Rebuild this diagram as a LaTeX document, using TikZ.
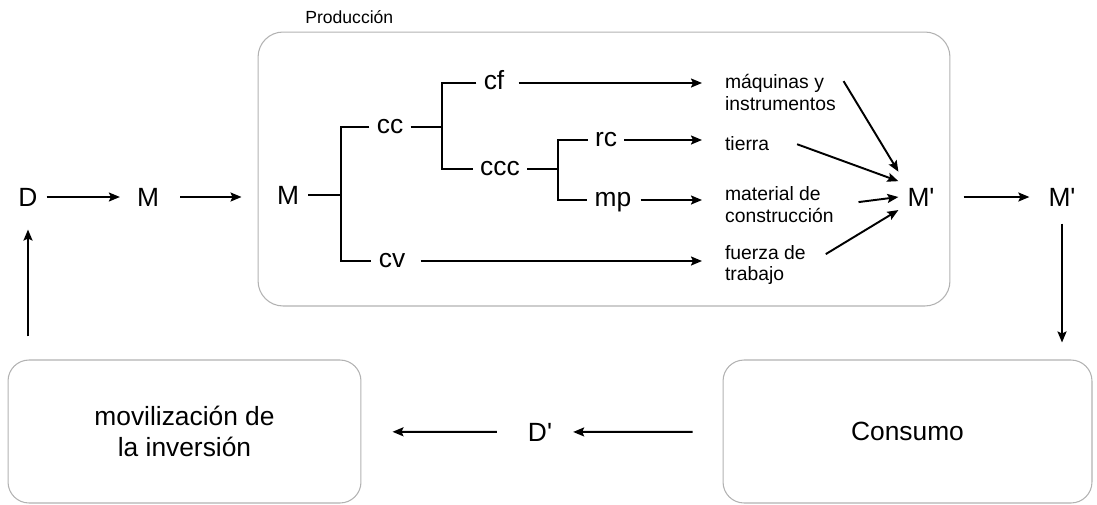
\documentclass[tikz,border=0pt]{standalone}
\usepackage{fontspec}
\setmainfont{Liberation Sans}[Ligatures=TeXOff]
\usetikzlibrary{arrows.meta}

\begin{document}
\begin{tikzpicture}[
    x=0.02cm, y=-0.02cm,
    stage/.style={draw=gray!60, line width=0.6pt, rounded corners=0.42cm, align=center, font=\fontsize{15}{18}\selectfont},
    sym/.style={font=\fontsize{15}{18}\selectfont, text height=10.7pt, text depth=0pt, inner sep=5pt},
    part/.style={font=\fontsize{15}{18}\selectfont, text height=7.8pt, text depth=0pt, inner sep=4pt},
    item/.style={font=\fontsize{11}{12.5}\selectfont, align=left, anchor=west, inner sep=1pt},
    branch/.style={line width=1.3pt},
    arrow/.style={-{Stealth[length=2.2mm, width=1.8mm, inset=0.4mm]}, line width=1.1pt}
]
\useasboundingbox (0,0) rectangle (1097,504);

% Production box
\node[stage, rounded corners=0.5cm, minimum width=13.84cm, minimum height=5.48cm] (prod) at (604,169) {};
\node[font=\fontsize{10}{12}\selectfont, anchor=west, inner sep=0pt] (prodlbl) at (305,17) {Producción};

% Circuit
\node[sym] (D) at (28,197) {D};
\node[sym] (M) at (148,197) {M};
\node[sym] (Mo) at (1062,197) {M'};
\node[sym] (Dp) at (540,432) {D'};
\node[stage, minimum width=7.06cm, minimum height=2.86cm] (movil) at (184.5,431.5) {movilización de\\la inversión};
\node[stage, minimum width=7.38cm, minimum height=2.86cm] (cons) at (907.5,431.5) {Consumo};

% Tree of capital
\node[sym] (Mi) at (288,195) {M};
\node[part] (cc) at (390,127) {cc};
\node[part] (cv) at (392,261) {cv};
\node[part] (cf) at (494,83) {cf};
\node[part] (ccc) at (500,169) {ccc};
\node[part] (rc) at (606,140) {rc};
\node[part] (mp) at (613,200) {mp};
\coordinate (f1) at (341,195);
\coordinate (f2) at (442,127);
\coordinate (f3) at (558,169);

\draw[branch] (Mi) -- (f1);
\draw[branch] (cc.west) -| (f1) |- (cv.west);
\draw[branch] (cc) -- (f2);
\draw[branch] (cf.west) -| (f2) |- (ccc.west);
\draw[branch] (ccc) -- (f3);
\draw[branch] (rc.west) -| (f3) |- (mp.west);

% Inputs
\node[item] (maq) at (723,92) {máquinas y\\instrumentos};
\node[item] (tierra) at (723,144) {tierra};
\node[item] (mat) at (723,205) {material de\\construcción};
\node[item] (fuerza) at (723,265) {fuerza de\\trabajo};
\node[sym, minimum height=1cm] (Mp) at (921,197) {M'};

\draw[arrow, shorten <=0.14cm, shorten >=0.42cm] (cf.east) -- (cf.east -| maq.west);
\draw[arrow, shorten >=0.42cm] (rc.east) -- (rc.east -| tierra.west);
\draw[arrow, shorten <=0.04cm, shorten >=0.42cm] (mp.east) -- (mp.east -| mat.west);
\draw[arrow, shorten <=0.16cm, shorten >=0.42cm] (cv.east) -- (cv.east -| fuerza.west);

\draw[arrow, shorten <=0.22cm] (maq.north east) -- (Mp.north west);
\draw[arrow, shorten <=0.55cm] (tierra.north east) -- (Mp.145);
\draw[arrow, shorten <=0.46cm] (mat.east) -- (Mp.west);
\draw[arrow, shorten <=0.42cm] (fuerza.east) -- (Mp.210);

% Flow between stages
\draw[arrow, shorten >=0.16cm] (D) -- (M);
\draw[arrow, shorten <=0.24cm, shorten >=0.32cm] (M) -- (M -| prod.west);
\draw[arrow, shorten <=0.4cm, shorten >=0.2cm] (Mp) -- (Mo);
\draw[arrow, shorten <=0.16cm, shorten >=0.34cm] (Mo) -- (Mo |- cons.north);
\draw[arrow, shorten <=0.6cm, shorten >=0.24cm] (cons) -- (Dp);
\draw[arrow, shorten <=0.44cm, shorten >=0.62cm] (Dp) -- (movil);
\draw[arrow, shorten <=0.46cm, shorten >=0.28cm] (D |- movil.north) -- (D);

\end{tikzpicture}
\end{document}
